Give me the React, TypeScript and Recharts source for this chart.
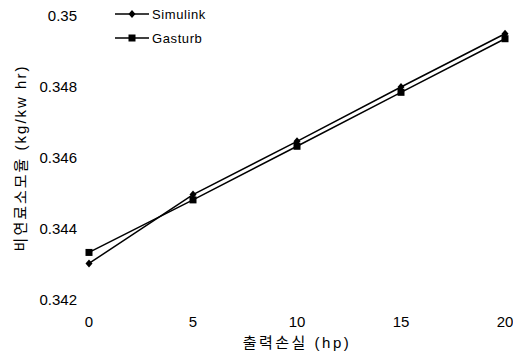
import { LineChart, Line, XAxis, YAxis } from 'recharts';

const hpLoss = [0, 5, 10, 15, 20];
const simulink = [0.34303, 0.34497, 0.34647, 0.348, 0.3495];
const gasturb = [0.34334, 0.34482, 0.34633, 0.34785, 0.34936];
const yTicks = [0.342, 0.344, 0.346, 0.348, 0.35];

const data = hpLoss.map((hp, i) => ({ hp, simulink: simulink[i], gasturb: gasturb[i] }));

const FONT = 'Arial, "Liberation Sans", "Noto Sans CJK KR", sans-serif';

const Diamond = ({ cx, cy }: any) => {
  if (cx == null || cy == null) return null;
  return <polygon points={`${cx},${cy - 4} ${cx + 3.5},${cy} ${cx},${cy + 4} ${cx - 3.5},${cy}`} fill="#000" />;
};

const Square = ({ cx, cy }: any) => {
  if (cx == null || cy == null) return null;
  return <rect x={cx - 3.5} y={cy - 3.5} width={7} height={7} fill="#000" />;
};

// rotated y title, centred on the plot height
const YTitle = ({ viewBox }: any) => {
  const cy = viewBox.y + viewBox.height / 2;
  const cx = 20;
  return (
    <text x={cx} y={cy} transform={`rotate(-90 ${cx} ${cy})`} textAnchor="middle" dominantBaseline="central"
      fontSize={15} letterSpacing={2} fill="#000" style={{ fontFamily: FONT }}>
      비연료소모율 (kg/kw hr)
    </text>
  );
};

// legend drawn as an overlay so it doesn't steal space from the plot
const LegendBox = () => (
  <svg width={140} height={52} style={{ position: 'absolute', left: 111, top: 0, fontFamily: FONT }}>
    <line x1={4} y1={14} x2={38} y2={14} stroke="#000" strokeWidth={1.5} />
    <Diamond cx={21} cy={14} />
    <text x={41} y={18.5} fontSize={13} letterSpacing={0.6} fill="#000">Simulink</text>
    <line x1={4} y1={38} x2={38} y2={38} stroke="#000" strokeWidth={1.5} />
    <Square cx={21} cy={38} />
    <text x={41} y={42.5} fontSize={13} letterSpacing={0.6} fill="#000">Gasturb</text>
  </svg>
);

export default function App() {
  return (
    <div style={{ position: 'absolute', left: 0, top: 0, width: 513, height: 352, background: '#fff' }}>
      <LineChart width={513} height={352} data={data} margin={{ top: 16, right: 8, bottom: 22, left: 0 }}
        style={{ fontFamily: FONT }}>
        <XAxis
          dataKey="hp"
          type="number"
          domain={[0, 20]}
          ticks={hpLoss}
          axisLine={false}
          tickLine={false}
          tickSize={0}
          tickMargin={16}
          height={30}
          tick={{ fill: '#000', fontSize: 15 }}
          label={{ value: '출력손실 (hp)', position: 'insideBottom', offset: -18, fill: '#000', fontSize: 15, letterSpacing: 2.5, fontFamily: FONT }}
        />
        <YAxis
          type="number"
          domain={[0.342, 0.35]}
          ticks={yTicks}
          axisLine={false}
          tickLine={false}
          tickSize={0}
          tickMargin={12}
          width={89}
          tick={{ fill: '#000', fontSize: 15 }}
          label={<YTitle />}
        />
        <Line dataKey="simulink" stroke="#000" strokeWidth={1.5} dot={<Diamond />} activeDot={false} isAnimationActive={false} />
        <Line dataKey="gasturb" stroke="#000" strokeWidth={1.5} dot={<Square />} activeDot={false} isAnimationActive={false} />
      </LineChart>
      <LegendBox />
    </div>
  );
}
